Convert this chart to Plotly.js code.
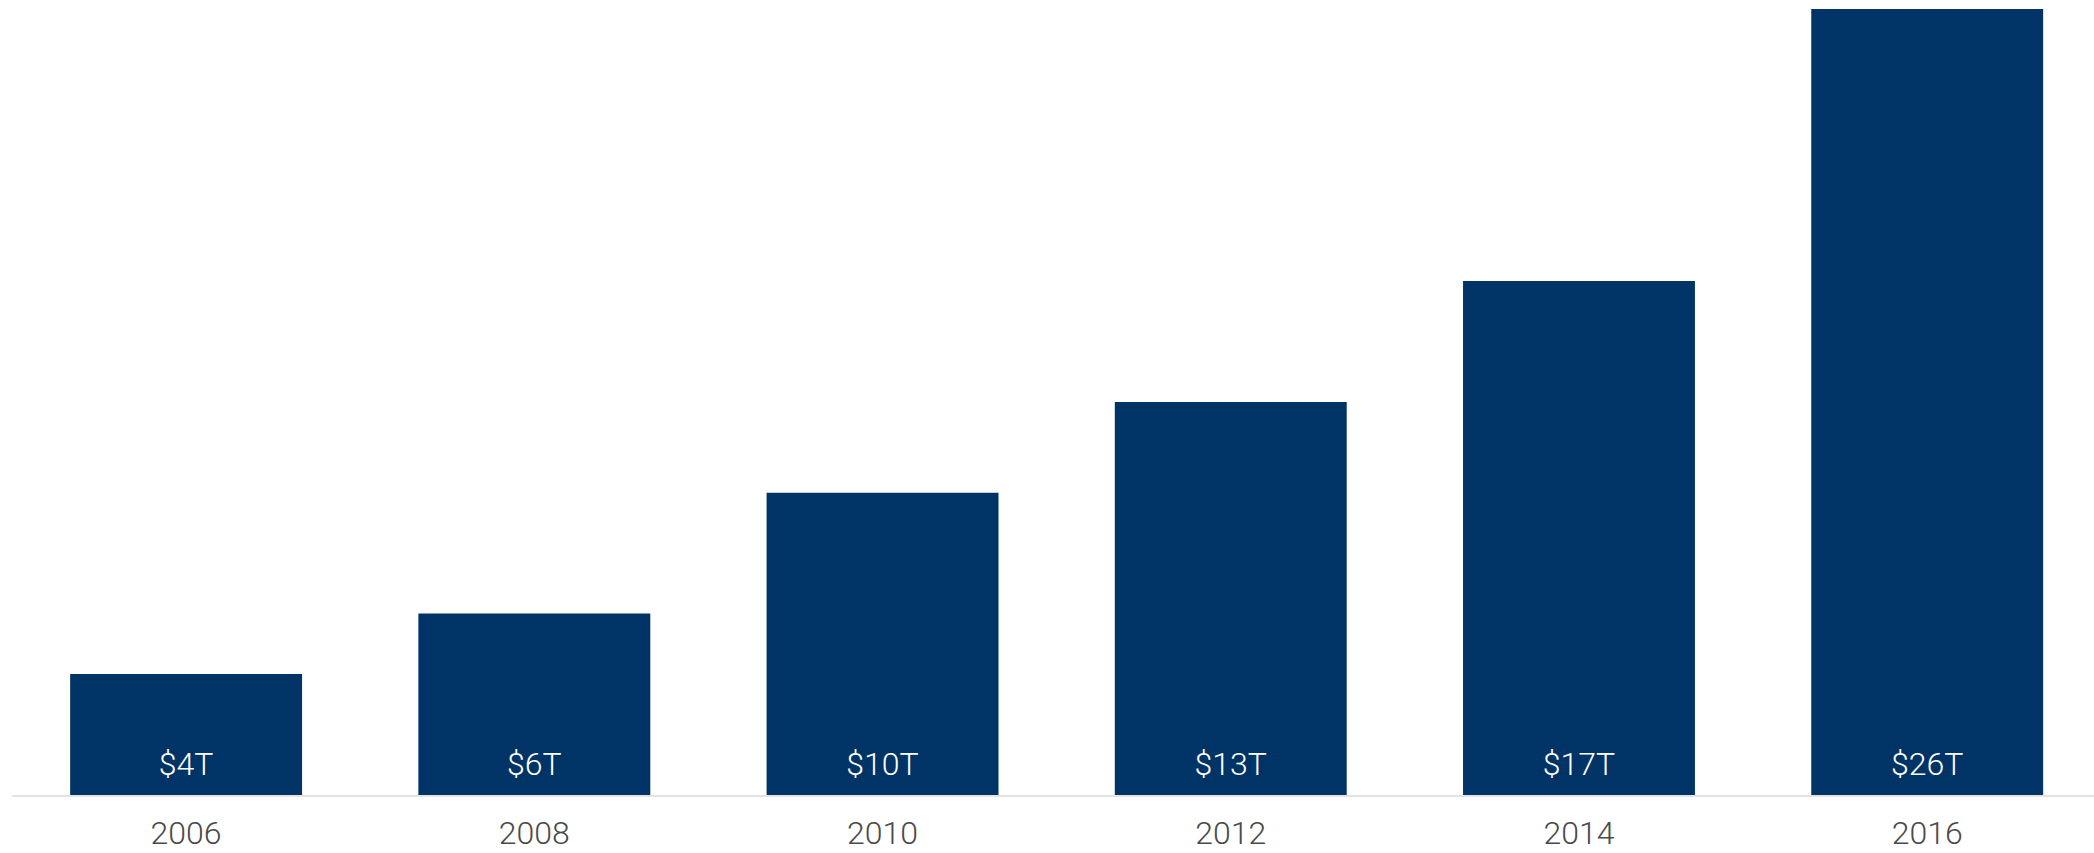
<!DOCTYPE html>
<html>
<head>
<meta charset="utf-8">
<script src="https://cdn.plot.ly/plotly-3.0.1.min.js"></script>
<style>
html,body{margin:0;padding:0;background:#fff;}
#chart{width:2094px;height:853px;}
</style>
</head>
<body>
<div id="chart"></div>
<script>
const years = ["2006", "2008", "2010", "2012", "2014", "2016"];
const values = [4, 6, 10, 13, 17, 26];
const labels = ["$4T", "$6T", "$10T", "$13T", "$17T", "$26T"];

const bars = {
  type: "bar",
  x: years,
  y: values,
  marker: {color: "#003466", line: {width: 0}},
  hoverinfo: "none"
};

const barLabels = {
  type: "scatter",
  mode: "markers+text",
  x: years,
  y: years.map(() => 0),
  text: labels,
  textposition: "top center",
  textfont: {family: "Roboto", size: 32, color: "#ffffff", weight: 300},
  marker: {size: 18, opacity: 0, color: "#003466"},
  cliponaxis: false,
  hoverinfo: "none"
};

const layout = {
  width: 2094,
  height: 853,
  margin: {l: 12, r: 0, t: 9, b: 58, pad: 0},
  paper_bgcolor: "#ffffff",
  plot_bgcolor: "#ffffff",
  bargap: 0.334,
  showlegend: false,
  xaxis: {
    type: "category",
    range: [-0.5, 5.479],
    showline: true,
    linecolor: "#e3e3e3",
    linewidth: 2,
    ticks: "",
    ticklabelstandoff: 9,
    showgrid: false,
    zeroline: false,
    automargin: false,
    tickfont: {family: "Roboto", size: 32, color: "#4a4a4a", weight: 300}
  },
  yaxis: {
    range: [0, 26],
    visible: false,
    showgrid: false,
    zeroline: false,
    fixedrange: true
  }
};

Plotly.newPlot("chart", [bars, barLabels], layout, {displayModeBar: false, staticPlot: true});
</script>
</body>
</html>
